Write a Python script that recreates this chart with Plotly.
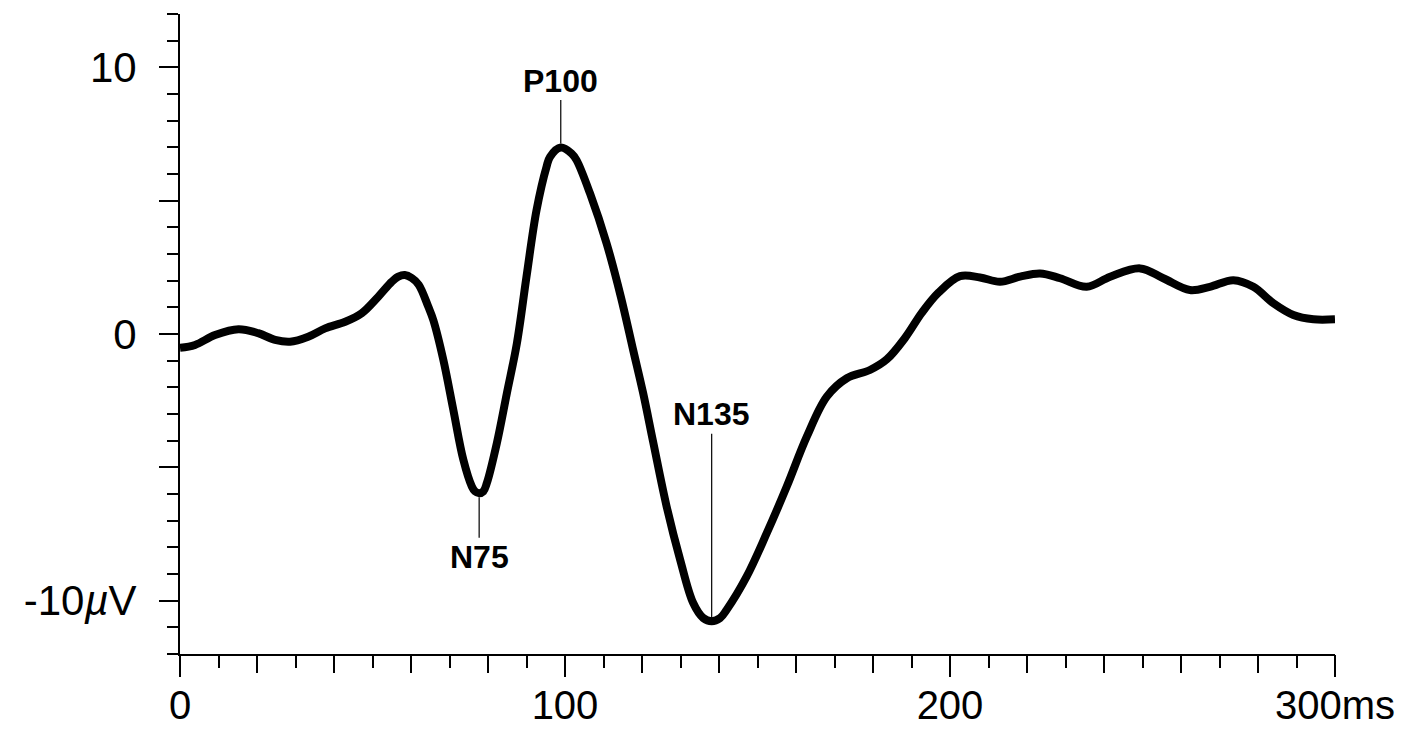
import numpy as np
import plotly.graph_objects as go

# Visual evoked potential (pattern reversal), one averaged trace
time_ms = [0, 3.9, 9.1, 15.2, 20.3, 24.7, 28.6, 33.3, 37.7, 42.9, 47.2, 51.5, 55.0,
           56.7, 58.4, 60.2, 62.0, 64.5, 65.8, 68.4, 71.0, 73.6, 75.8, 76.6, 77.7,
           78.8, 79.7, 82.3, 84.9, 87.5, 90.0, 92.6, 95.2, 96.1, 98.9, 101.7, 103.0,
           106.5, 110.8, 114.5, 117.7, 120.3, 122.9, 126.4, 129.9, 133.3, 135.9,
           138.1, 140.3, 142.0, 147.2, 152.4, 157.6, 162.8, 168.0, 173.2, 179.2,
           183.6, 188.3, 192.7, 197.0, 202.6, 207.8, 213.0, 218.2, 223.4, 228.6,
           235.5, 241.6, 249.4, 255.4, 262.3, 267.5, 273.6, 278.8, 284.0, 289.2,
           294.4, 300.0]
amplitude_uv = [-0.52, -0.41, -0.04, 0.18, 0.03, -0.22, -0.29, -0.10, 0.21, 0.46, 0.78,
                1.40, 1.96, 2.15, 2.21, 2.10, 1.85, 1.02, 0.52, -0.97, -2.85, -4.72,
                -5.72, -5.90, -5.97, -5.90, -5.59, -4.09, -2.22, -0.35, 2.15, 4.64,
                6.27, 6.64, 6.99, 6.77, 6.52, 5.27, 3.40, 1.40, -0.60, -2.22, -4.05,
                -6.47, -8.46, -10.09, -10.65, -10.77, -10.65, -10.34, -9.09, -7.47,
                -5.72, -3.85, -2.35, -1.66, -1.35, -0.95, -0.15, 0.80, 1.55, 2.17,
                2.12, 1.96, 2.15, 2.27, 2.09, 1.77, 2.15, 2.46, 2.09, 1.65, 1.77, 2.02,
                1.77, 1.15, 0.71, 0.55, 0.55]

# labelled components
peak_names = ["N75", "P100", "N135"]
peak_latency = [77.7, 98.9, 138.1]

x_label_vals = [0, 100, 200, 300]
x_label_text = ["0", "100", "200", "300ms"]
y_label_vals = [-10, -5, 0, 5, 10]
y_label_text = ["-10<i>µ</i>V", "", "0", "", "10"]

FONT = "Liberation Sans, Arial, Helvetica, sans-serif"

fig = go.Figure()
fig.add_trace(go.Scatter(
    x=time_ms, y=amplitude_uv, mode="lines",
    line=dict(color="black", width=8, shape="spline", smoothing=1.0),
    hoverinfo="x+y", showlegend=False,
))
# empty trace so the labelled overlay axis is built
fig.add_trace(go.Scatter(x=[], y=[], xaxis="x2", showlegend=False, hoverinfo="skip"))

# peak labels with thin leader lines (text offset in pixels)
offsets = {"N75": 64, "P100": -67, "N135": -207}
standoffs = {"N75": 4, "P100": 4, "N135": 0}
for name, lat in zip(peak_names, peak_latency):
    amp = float(np.interp(lat, time_ms, amplitude_uv))
    fig.add_annotation(
        x=lat, y=amp, xref="x", yref="y",
        text=f"<b>{name}</b>", showarrow=True, arrowhead=0, arrowwidth=1.2,
        arrowcolor="black", ax=0, ay=offsets[name], standoff=standoffs[name],
        font=dict(family=FONT, size=32, color="black"),
    )

# page body has an 8px margin, so the margins are trimmed by that much
fig.update_layout(
    width=1409, height=729,
    margin=dict(l=172, r=82, t=6, b=83, pad=0),
    paper_bgcolor="white", plot_bgcolor="white",
    font=dict(family=FONT, size=42, color="black"),
    xaxis=dict(
        range=[0, 300], showgrid=False, zeroline=False,
        showline=True, linecolor="black", linewidth=2,
        ticks="outside", tickvals=list(range(0, 301, 20)), ticklen=17,
        tickwidth=2, tickcolor="black", showticklabels=False,
        minor=dict(ticks="outside", dtick=10, tick0=0, ticklen=12,
                   tickwidth=2, tickcolor="black", showgrid=False),
        automargin=False,
    ),
    xaxis2=dict(
        range=[0, 300], overlaying="x", anchor="y", side="bottom",
        showgrid=False, zeroline=False, showline=False,
        ticks="outside", tickvals=x_label_vals, ticktext=x_label_text,
        ticklen=22, tickwidth=2, tickcolor="black", ticklabelstandoff=-6,
        tickfont=dict(family=FONT, size=40, color="black"),
        automargin=False,
    ),
    yaxis=dict(
        range=[-12, 12], showgrid=False, zeroline=False,
        showline=True, linecolor="black", linewidth=2,
        ticks="outside", tickvals=y_label_vals, ticktext=y_label_text,
        ticklen=19, tickwidth=2, tickcolor="black", ticklabelstandoff=14,
        tickfont=dict(family=FONT, size=42, color="black"),
        minor=dict(ticks="outside", dtick=1, tick0=0, ticklen=11,
                   tickwidth=2, tickcolor="black", showgrid=False),
        automargin=False,
    ),
)

fig.write_html("out.html")
